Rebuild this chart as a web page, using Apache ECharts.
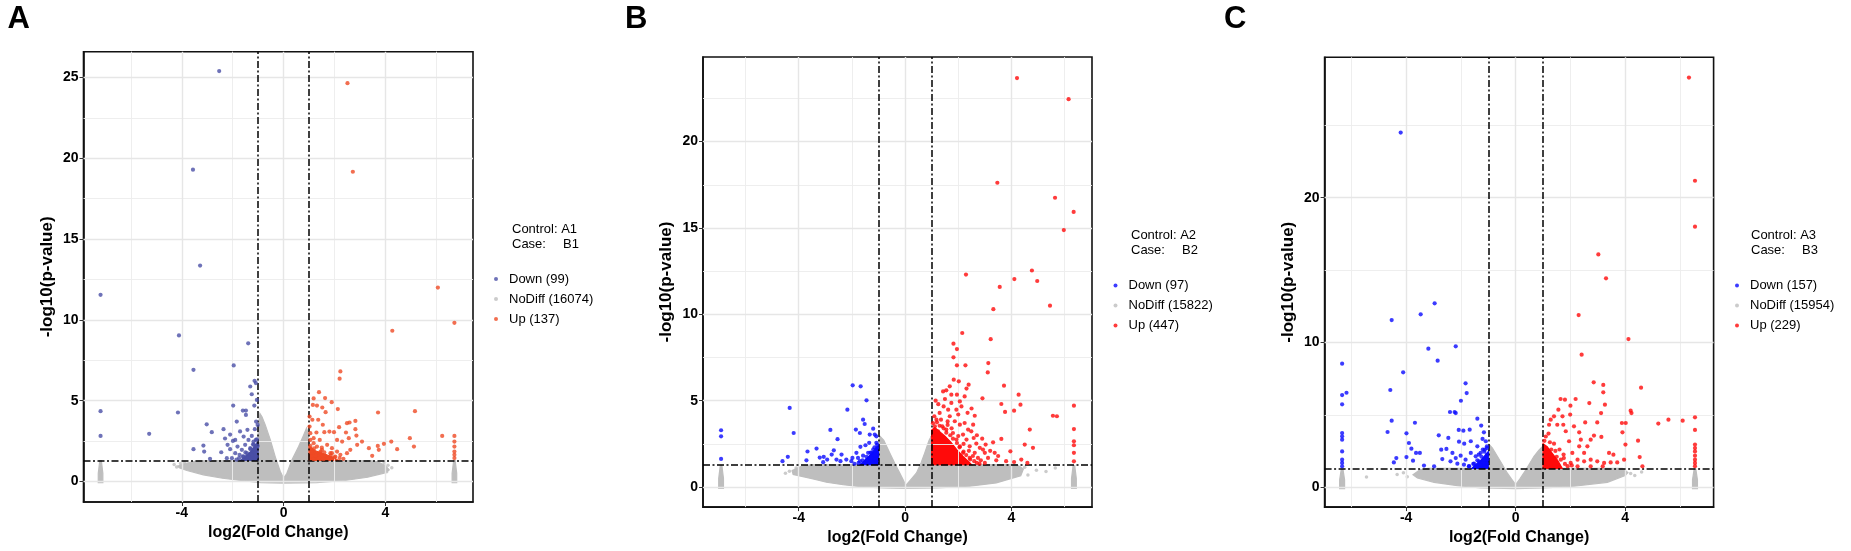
<!DOCTYPE html>
<html><head><meta charset="utf-8">
<script src="https://cdn.jsdelivr.net/npm/echarts@6/dist/echarts.min.js"></script>
<style>html,body{margin:0;padding:0;background:#fff}#c{width:1851px;height:551px}</style>
</head><body><div id="c"></div>
<script>
// ---------- tick / grid values ----------
const xTicks = [-4, 0, 4];
const xMinor = [-6, -2, 2, 6];
const yTicksA = [0, 5, 10, 15, 20, 25];
const yMinorA = [2.5, 7.5, 12.5, 17.5, 22.5];
const yTicksB = [0, 5, 10, 15, 20];
const yMinorB = [2.5, 7.5, 12.5, 17.5, 22.5];
const yTicksC = [0, 10, 20];
const yMinorC = [5, 15, 25];
const fcCut = [-1, 1];
const pCut = [1.301];

// ---------- legend labels ----------
const panelLetters = ['A', 'B', 'C'];
const controls = ['A1', 'A2', 'A3'];
const cases = ['B1', 'B2', 'B3'];
const labelsA = ['Down (99)', 'NoDiff (16074)', 'Up (137)'];
const labelsB = ['Down (97)', 'NoDiff (15822)', 'Up (447)'];
const labelsC = ['Down (157)', 'NoDiff (15954)', 'Up (229)'];

// ---------- Panel A data ----------
const downA = [[-2.53,25.4],[-3.56,19.3],[-3.28,13.36],[-7.19,11.55],[-4.11,9.04],[-1.39,8.55],[-3.54,6.91],[-1.96,7.18],[-7.19,4.35],[-4.15,4.27],[-7.19,2.82],[-5.28,2.95],[-3.02,3.54],[-2.82,3.05],[-3.54,2.0],[-3.15,2.22],[-3.12,1.85],[-2.45,1.81],[-2.89,1.40],[-2.36,3.24],[-2.30,2.66],[-1.98,4.7],[-1.84,3.71],[-1.60,4.39],[-1.48,4.39],[-1.48,4.12],[-1.31,5.88],[-1.25,5.40],[-1.14,6.23],[-1.09,6.09],[-1.15,4.7],[-1.05,5.05],[-1.08,3.71],[-1.02,3.5],[-1.13,3.24],[-2.1,2.9],[-1.90,2.57],[-1.71,3.1],[-1.57,2.78],[-1.42,3.2],[-1.38,2.57],[-1.25,2.82],[-1.99,2.51],[-2.2,2.27],[-2.1,2.0],[-1.81,2.16],[-1.64,1.96],[-1.51,2.27],[-1.31,2.06],[-1.18,2.27],[-1.12,1.96],[-1.44,1.75],[-1.25,1.65],[-1.57,1.54],[-1.38,1.50],[-1.05,1.54],[-1.18,2.47],[-1.73,1.65],[-1.90,1.75],[-2.23,1.44],[-2.03,1.44],[-1.09,2.57],[-1.02,2.2],[-1.31,1.44],[-1.12,1.44],[-1.05,2.6],[-1.2,2.3],[-1.3,2.0],[-1.5,1.8],[-1.6,1.55],[-1.75,1.45],[-1.85,1.35]];
const upA = [[2.51,24.65],[2.72,19.17],[6.06,12.0],[6.71,9.82],[4.27,9.33],[2.23,6.81],[2.20,6.36],[1.39,5.53],[1.18,5.14],[1.63,5.16],[1.89,4.91],[1.15,4.74],[1.31,4.70],[1.52,4.58],[2.13,4.48],[1.65,4.29],[3.71,4.27],[5.16,4.35],[1.02,4.02],[1.13,3.82],[1.36,3.82],[1.54,3.51],[2.49,3.61],[2.59,3.65],[2.82,3.75],[2.18,3.36],[2.82,3.24],[1.29,3.03],[1.60,3.05],[1.80,3.09],[1.98,3.05],[2.45,3.03],[1.05,2.57],[1.18,2.68],[1.42,2.57],[2.10,2.57],[2.30,2.47],[2.56,2.68],[2.86,2.84],[2.89,2.27],[3.08,2.47],[3.35,2.06],[3.70,2.20],[3.74,1.96],[3.94,2.33],[4.23,2.47],[4.46,2.0],[4.96,2.68],[5.12,2.16],[6.23,2.82],[6.71,2.82],[6.71,2.47],[6.71,2.16],[6.71,1.85],[6.71,1.65],[6.71,1.45],[3.48,1.59],[1.18,2.37],[1.31,2.16],[1.51,1.96],[1.71,2.27],[1.90,2.06],[2.10,1.85],[1.84,1.75],[1.64,1.59],[1.44,1.75],[1.25,1.59],[1.08,1.79],[1.38,1.44],[1.77,1.44],[2.03,1.54],[2.23,1.65],[2.49,1.75],[2.62,1.96],[1.57,1.38],[1.18,1.38],[1.05,2.99],[1.02,3.40],[1.05,2.2],[1.2,2.05],[1.45,1.85],[1.6,1.8],[1.85,1.6],[2.0,1.5],[2.2,1.45],[2.35,1.4],[1.9,1.75],[1.5,2.1]];
const noDiffA = [[-4.3,1.05],[-4.05,1.12],[-3.9,1.18],[-4.2,0.9],[4.1,1.0],[4.25,0.85],[3.95,1.15],[4.05,0.6]];
const massA = [[-4.15,0.95],[-3.9,1.1],[-3.5,1.25],[-3.0,1.3],[-1.02,1.3],[-1.0,3.2],[-0.93,4.2],[-0.85,4.0],[-0.72,3.5],[-0.52,2.57],[-0.33,1.54],[-0.13,0.62],[0.0,0.2],[0.13,0.51],[0.33,1.34],[0.59,2.16],[0.79,2.88],[0.9,3.3],[0.97,3.0],[1.0,1.3],[3.4,1.3],[3.7,1.22],[4.0,0.97],[4.15,0.72],[3.95,0.52],[3.3,0.26],[2.4,0.06],[1.3,-0.07],[0,-0.1],[-0.9,-0.07],[-1.6,0.05],[-2.4,0.2],[-3.15,0.41],[-3.8,0.68],[-4.1,0.85]];
const colLeftA = [[-7.28,-0.08],[-7.1,-0.08],[-7.1,0.5],[-7.16,1.3],[-7.22,1.3],[-7.28,0.5]];
const colRightA = [[6.62,-0.08],[6.8,-0.08],[6.8,0.5],[6.74,1.3],[6.68,1.3],[6.62,0.5]];
const coreDownA = [[-1.0,1.3],[-1.0,2.5],[-1.12,2.25],[-1.3,1.85],[-1.55,1.5],[-1.7,1.3]];
const coreUpA = [[1.0,1.3],[1.0,2.2],[1.25,1.9],[1.6,1.7],[1.95,1.5],[2.15,1.3]];

// ---------- Panel B data ----------
const downB = [[-6.92,3.29],[-6.92,2.94],[-6.92,1.63],[-4.34,4.58],[-4.19,3.13],[-4.61,1.50],[-4.41,1.75],[-3.67,2.06],[-3.71,1.55],[-3.33,2.23],[-3.21,1.71],[-3.06,1.75],[-2.81,3.31],[-2.68,2.13],[-2.54,2.77],[-2.76,1.88],[-2.58,1.59],[-2.39,1.88],[-2.17,4.48],[-1.97,5.89],[-1.67,5.83],[-1.45,5.02],[-1.58,3.90],[-1.52,3.65],[-1.85,3.33],[-1.70,3.13],[-1.33,3.04],[-1.20,3.38],[-1.14,3.04],[-1.08,2.94],[-1.35,2.56],[-1.49,2.42],[-1.68,2.33],[-1.83,1.98],[-1.98,1.69],[-1.77,1.69],[-1.58,1.82],[-1.39,1.98],[-1.20,2.17],[-1.08,2.56],[-1.27,1.69],[-1.45,1.55],[-1.14,1.59],[-1.05,1.88],[-2.21,1.59],[-2.02,1.50],[-1.70,1.50],[-1.27,1.98],[-1.08,1.50],[-2.93,1.59],[-2.43,1.50],[-3.08,1.44],[-1.05,2.27],[-1.05,2.45],[-1.15,2.3],[-1.3,2.0],[-1.45,1.75],[-1.6,1.55],[-1.75,1.4],[-1.9,1.35]];
const upB = [[4.21,23.68],[6.15,22.46],[3.47,17.62],[5.64,16.75],[6.34,15.93],[5.97,14.88],[2.29,12.3],[4.77,12.54],[4.11,12.04],[4.97,11.93],[3.56,11.59],[3.32,10.3],[5.45,10.5],[2.15,8.92],[3.22,8.56],[1.82,8.30],[1.95,7.99],[1.82,7.51],[2.27,7.05],[1.95,7.05],[3.13,7.18],[3.11,6.64],[1.83,6.22],[1.68,5.83],[1.55,5.60],[2.02,6.12],[2.39,5.93],[2.31,5.70],[3.72,5.87],[4.27,5.35],[2.91,5.14],[1.43,5.54],[1.74,5.35],[1.95,5.35],[2.24,5.25],[3.62,4.81],[4.34,4.77],[3.76,4.35],[4.10,4.42],[5.56,4.13],[5.71,4.10],[6.35,4.71],[6.35,3.36],[6.35,2.65],[6.35,2.42],[6.35,1.98],[6.35,1.49],[4.69,3.33],[4.81,2.27],[4.50,2.46],[3.96,2.07],[4.37,1.59],[3.62,2.79],[3.31,2.59],[3.03,2.46],[2.93,2.17],[3.37,1.98],[3.43,1.55],[2.62,4.13],[2.56,3.61],[2.49,3.23],[2.58,2.84],[2.68,2.52],[2.81,2.27],[3.0,1.98],[3.12,1.69],[2.06,4.96],[2.12,4.67],[1.93,4.48],[1.74,4.87],[1.62,4.48],[1.45,4.67],[1.30,4.29],[1.18,3.90],[1.68,4.10],[1.87,3.81],[2.06,3.61],[2.24,3.71],[2.37,3.33],[2.18,3.04],[2.31,2.75],[2.43,2.36],[2.62,1.98],[2.74,1.69],[2.43,1.69],[2.18,1.98],[2.06,2.36],[1.93,2.75],[1.80,3.13],[1.55,3.33],[1.40,3.52],[1.24,3.23],[1.12,3.52],[1.05,2.94],[1.1,4.1],[1.25,4.8],[1.5,5.1],[1.6,3.8],[1.35,3.9],[2.7,3.0],[2.9,2.8],[3.2,2.1],[3.5,1.8],[3.8,1.5],[4.1,1.45],[4.6,1.4],[1.15,5.0],[2.0,4.2],[2.35,4.3],[2.5,4.55],[1.05,3.7],[1.2,3.75],[1.3,3.55],[1.45,3.4],[1.55,3.15],[1.7,3.0],[1.8,2.8],[1.95,2.55],[2.05,2.3],[2.2,2.05],[2.3,1.85],[2.45,1.6],[2.6,1.5],[2.7,1.4],[2.8,1.35],[2.2,2.5],[1.75,3.4],[1.6,3.6],[2.0,2.95],[2.4,2.1],[2.55,1.8],[2.85,1.55],[3.0,1.4]];
const noDiffB = [[-4.35,0.92],[-4.5,0.8],[-4.1,1.1],[4.62,0.7],[4.94,0.98],[5.3,0.9],[5.65,1.1],[4.5,1.15]];
const massB = [[-4.25,0.95],[-3.9,1.2],[-3.5,1.3],[-1.02,1.3],[-1.0,2.5],[-0.95,2.95],[-0.8,2.7],[-0.58,1.98],[-0.38,1.35],[-0.2,0.82],[0.03,0.1],[0.2,0.4],[0.43,0.82],[0.6,1.4],[0.74,1.98],[0.9,2.7],[0.97,2.9],[1.0,1.3],[4.2,1.3],[4.45,1.05],[4.35,0.65],[3.43,0.24],[2.43,0.05],[1.2,-0.05],[0,-0.08],[-0.83,-0.05],[-1.58,0.01],[-2.33,0.14],[-2.96,0.28],[-3.46,0.47],[-4.21,0.73]];
const colLeftB = [[-7.01,-0.08],[-6.83,-0.08],[-6.83,0.5],[-6.89,1.25],[-6.95,1.25],[-7.01,0.5]];
const colRightB = [[6.26,-0.08],[6.44,-0.08],[6.44,0.5],[6.38,1.25],[6.32,1.25],[6.26,0.5]];
const coreDownB = [[-1.0,1.3],[-1.0,2.4],[-1.15,2.15],[-1.35,1.8],[-1.55,1.5],[-1.7,1.3]];
const coreUpB = [[1.0,1.3],[1.0,3.3],[1.12,3.45],[1.3,3.2],[1.5,2.95],[1.72,2.6],[1.95,2.15],[2.2,1.75],[2.4,1.45],[2.5,1.3]];

// ---------- Panel C data ----------
const downC = [[-4.2,24.5],[-6.34,8.53],[-6.34,6.36],[-6.18,6.52],[-6.34,5.72],[-6.34,3.74],[-6.34,3.51],[-6.34,3.28],[-6.34,2.47],[-6.34,1.90],[-6.34,1.67],[-6.34,1.44],[-4.53,11.54],[-3.47,11.94],[-2.96,12.70],[-3.19,9.57],[-2.19,9.73],[-2.85,8.74],[-4.11,7.93],[-4.58,6.71],[-4.53,4.59],[-4.68,3.81],[-1.83,7.17],[-1.79,6.50],[-2.00,5.97],[-2.40,5.19],[-2.23,5.19],[-2.19,5.12],[-3.68,4.45],[-3.99,3.72],[-3.90,3.05],[-3.81,2.66],[-3.64,2.36],[-3.50,2.36],[-3.99,2.08],[-4.36,2.01],[-4.45,1.71],[-3.75,1.83],[-2.81,3.58],[-2.46,3.40],[-2.08,3.95],[-1.91,3.90],[-1.68,3.97],[-1.40,4.73],[-1.26,4.25],[-1.16,3.79],[-2.07,3.14],[-1.88,3.00],[-1.64,3.17],[-1.40,2.82],[-1.21,3.33],[-1.09,3.17],[-1.05,2.82],[-2.72,2.59],[-2.53,2.64],[-2.31,2.36],[-2.19,2.01],[-2.68,1.94],[-2.38,1.78],[-2.01,2.17],[-1.83,1.90],[-1.64,2.36],[-1.46,2.13],[-1.28,2.36],[-1.13,2.59],[-1.05,2.24],[-1.34,1.78],[-1.16,1.90],[-1.52,1.62],[-1.89,1.55],[-2.13,1.62],[-1.71,1.44],[-1.28,1.49],[-1.05,1.62],[-3.35,1.49],[-2.98,1.44],[-1.03,1.90],[-1.05,2.7],[-1.15,2.45],[-1.25,2.1],[-1.4,1.85],[-1.55,1.6],[-1.7,1.45],[-1.35,2.25],[-1.2,2.6]];
const upC = [[6.33,28.3],[6.55,21.17],[6.55,18.0],[3.02,16.08],[3.30,14.43],[2.30,11.89],[4.12,10.23],[2.41,9.15],[2.85,7.24],[3.20,7.06],[3.20,6.55],[4.58,6.87],[3.26,5.70],[3.12,5.12],[4.20,5.28],[4.23,5.12],[5.21,4.39],[5.58,4.66],[6.10,4.59],[6.55,4.82],[6.55,3.95],[6.55,2.94],[6.55,2.70],[6.55,2.47],[6.55,2.17],[6.55,1.90],[6.55,1.67],[6.55,1.45],[2.69,5.81],[2.19,6.09],[1.80,6.04],[1.64,6.09],[2.00,5.63],[1.56,5.35],[1.40,4.89],[1.99,5.01],[1.28,4.66],[1.52,4.31],[1.22,4.31],[2.54,4.47],[2.98,4.47],[3.90,3.79],[4.02,4.43],[3.88,4.43],[4.47,3.21],[4.01,2.94],[3.96,1.90],[4.53,2.08],[4.63,1.44],[3.41,2.36],[3.57,2.24],[3.71,1.71],[3.47,1.71],[2.86,3.56],[3.13,3.47],[2.32,3.79],[2.62,2.82],[2.50,2.36],[2.74,1.90],[2.98,1.78],[3.23,1.67],[2.32,2.82],[2.07,2.36],[1.95,3.17],[1.83,3.86],[1.74,4.31],[1.71,4.89],[2.13,4.20],[2.38,3.28],[2.74,3.28],[2.50,1.78],[2.26,1.90],[2.01,1.67],[1.76,2.01],[2.26,1.44],[2.74,1.44],[3.18,1.44],[1.05,3.2],[1.1,3.5],[1.25,3.1],[1.3,2.6],[1.45,2.5],[1.5,2.1],[1.65,1.9],[1.8,1.6],[1.9,1.45],[1.6,2.6],[1.4,3.0],[1.2,3.7],[2.05,1.5],[1.75,2.25]];
const noDiffC = [[-5.45,0.70],[-4.33,0.87],[-3.96,0.72],[-4.1,1.0],[4.2,0.95],[4.35,0.8],[4.6,1.05]];
const massC = [[-3.75,0.85],[-3.5,1.2],[-3.2,1.3],[-1.02,1.3],[-1.0,2.5],[-0.97,2.95],[-0.85,2.7],[-0.67,2.13],[-0.5,1.6],[-0.31,0.98],[-0.15,0.55],[0.0,0.17],[0.15,0.55],[0.30,0.98],[0.5,1.6],[0.67,2.13],[0.85,2.55],[0.95,2.75],[1.0,1.3],[3.9,1.3],[4.1,1.0],[4.0,0.8],[3.35,0.33],[2.13,0.06],[1.04,-0.06],[0,-0.1],[-1.28,-0.06],[-2.13,0.10],[-2.98,0.33],[-3.59,0.63]];
const colLeftC = [[-6.43,-0.1],[-6.25,-0.1],[-6.25,0.5],[-6.31,1.25],[-6.37,1.25],[-6.43,0.5]];
const colRightC = [[6.46,-0.1],[6.64,-0.1],[6.64,0.5],[6.58,1.25],[6.52,1.25],[6.46,0.5]];
const coreDownC = [[-1.0,1.3],[-1.0,2.45],[-1.12,2.2],[-1.3,1.8],[-1.5,1.5],[-1.6,1.3]];
const coreUpC = [[1.0,1.3],[1.0,3.0],[1.15,2.8],[1.35,2.3],[1.55,1.8],[1.7,1.3]];

// ---------- build ----------
const FONT = '"Liberation Sans", Arial, sans-serif';
const GREY = '#bebebe';
const panels = [
  {grid:{left:83.5, top:51.7, width:389.5, height:450.3}, x:[-7.86,7.44], y:[-1.27,26.6], yT:yTicksA, yM:yMinorA,
   down:downA, up:upA, nd:noDiffA, mass:massA, cols:[colLeftA,colRightA], cores:[coreDownA,coreUpA], labels:labelsA,
   cDown:'#4a4fa6', cUp:'#ef4a24', letterX:7.5, legX:494, legY:272, ctlX:512, ctlY:229},
  {grid:{left:703, top:57, width:389, height:450.5}, x:[-7.6,7.03], y:[-1.16,24.9], yT:yTicksB, yM:yMinorB,
   down:downB, up:upB, nd:noDiffB, mass:massB, cols:[colLeftB,colRightB], cores:[coreDownB,coreUpB], labels:labelsB,
   cDown:'#0a0aff', cUp:'#ff0a0a', letterX:625, legX:1113.5, legY:278.4, ctlX:1131, ctlY:235},
  {grid:{left:1324.6, top:57.3, width:389, height:450.2}, x:[-6.98,7.23], y:[-1.38,29.7], yT:yTicksC, yM:yMinorC,
   down:downC, up:upC, nd:noDiffC, mass:massC, cols:[colLeftC,colRightC], cores:[coreDownC,coreUpC], labels:labelsC,
   cDown:'#0a0aff', cUp:'#ff0a0a', letterX:1224, legX:1735, legY:278.4, ctlX:1751, ctlY:235}
];

function poly(i, pts, color, z) {
  return {type:'custom', xAxisIndex:i, yAxisIndex:i, z:z, silent:true, animation:false, data:[pts[0]],
    renderItem:function(params, api){
      return {type:'polygon', shape:{points:pts.map(function(p){return api.coord(p);})},
        style:{fill:color, stroke:color, lineWidth:1.2}};
    }};
}
function lines(i, xs, ys, style, z) {
  return {type:'scatter', xAxisIndex:i, yAxisIndex:i, data:[], silent:true, z:z,
    markLine:{silent:true, symbol:['none','none'], label:{show:false}, animation:false, lineStyle:style,
      data: xs.map(function(v){return {xAxis:v};}).concat(ys.map(function(v){return {yAxis:v};}))}};
}

const grids=[], xAxes=[], yAxes=[], series=[], legends=[], titles=[], graphics=[];
panels.forEach(function(p, i){
  grids.push(Object.assign({show:true, borderColor:'#111', borderWidth:1.6, containLabel:false}, p.grid));
  xAxes.push({type:'value', gridIndex:i, min:p.x[0], max:p.x[1],
    axisLine:{show:true, onZero:false, lineStyle:{color:'#111', width:1.6}},
    axisTick:{show:true, customValues:xTicks, length:4, lineStyle:{color:'#333', width:1}},
    axisLabel:{customValues:xTicks, fontSize:14, fontWeight:'bold', color:'#000', fontFamily:FONT, margin:4},
    splitLine:{show:false},
    name:'log2(Fold Change)', nameLocation:'middle', nameGap:21,
    nameTextStyle:{fontSize:16, fontWeight:'bold', color:'#000', fontFamily:FONT}});
  yAxes.push({type:'value', gridIndex:i, min:p.y[0], max:p.y[1],
    axisLine:{show:true, onZero:false, lineStyle:{color:'#111', width:1.6}},
    axisTick:{show:true, customValues:p.yT, length:4, lineStyle:{color:'#333', width:1}},
    axisLabel:{customValues:p.yT, fontSize:14, fontWeight:'bold', color:'#000', fontFamily:FONT, margin:5},
    splitLine:{show:false},
    name:'-log10(p-value)', nameLocation:'middle', nameGap:28,
    nameTextStyle:{fontSize:17, fontWeight:'bold', color:'#000', fontFamily:FONT}});
  series.push(lines(i, xMinor, p.yM, {color:'#ececec', width:0.9, type:'solid'}, 1));
  series.push(lines(i, xTicks, p.yT, {color:'#e6e6e6', width:1.4, type:'solid'}, 1));
  series.push(poly(i, p.mass, GREY, 2));
  series.push(poly(i, p.cols[0], GREY, 2));
  series.push(poly(i, p.cols[1], GREY, 2));
  series.push({type:'scatter', name:p.labels[1], xAxisIndex:i, yAxisIndex:i, data:p.nd, symbolSize:3.5,
    itemStyle:{color:GREY}, silent:true, z:3, animation:false});
  series.push(poly(i, p.cores[0], p.cDown, 4));
  series.push(poly(i, p.cores[1], p.cUp, 4));
  series.push({type:'scatter', name:p.labels[0], xAxisIndex:i, yAxisIndex:i, data:p.down, symbolSize:4.2,
    itemStyle:{color:p.cDown}, silent:true, z:5, animation:false});
  series.push({type:'scatter', name:p.labels[2], xAxisIndex:i, yAxisIndex:i, data:p.up, symbolSize:4.2,
    itemStyle:{color:p.cUp}, silent:true, z:5, animation:false});
  series.push(lines(i, fcCut, pCut, {color:'#000', width:1.5, type:[7,2.5,2,2.5]}, 8));
  legends.push({data:p.labels, orient:'vertical', left:p.legX, top:p.legY, padding:0, icon:'circle',
    itemWidth:16, itemHeight:4, itemGap:6, selectedMode:false,
    textStyle:{fontSize:13, lineHeight:14, color:'#000', fontFamily:FONT}});
  titles.push({text:panelLetters[i], left:p.letterX, top:4, padding:0,
    textStyle:{fontSize:31, fontWeight:'bold', color:'#000', fontFamily:FONT}});
  const ts = {fontSize:13, fontFamily:FONT, fill:'#000', textVerticalAlign:'middle', verticalAlign:'middle'};
  graphics.push({type:'text', style:Object.assign({text:'Control: ' + controls[i], x:p.ctlX, y:p.ctlY}, ts)});
  graphics.push({type:'text', style:Object.assign({text:'Case:', x:p.ctlX, y:p.ctlY + 15}, ts)});
  graphics.push({type:'text', style:Object.assign({text:cases[i], x:p.ctlX + 51, y:p.ctlY + 15}, ts)});
});

const chart = echarts.init(document.getElementById('c'));
chart.setOption({animation:false, backgroundColor:'#fff', title:titles, legend:legends, grid:grids,
  xAxis:xAxes, yAxis:yAxes, series:series, graphic:graphics});
</script></body></html>
